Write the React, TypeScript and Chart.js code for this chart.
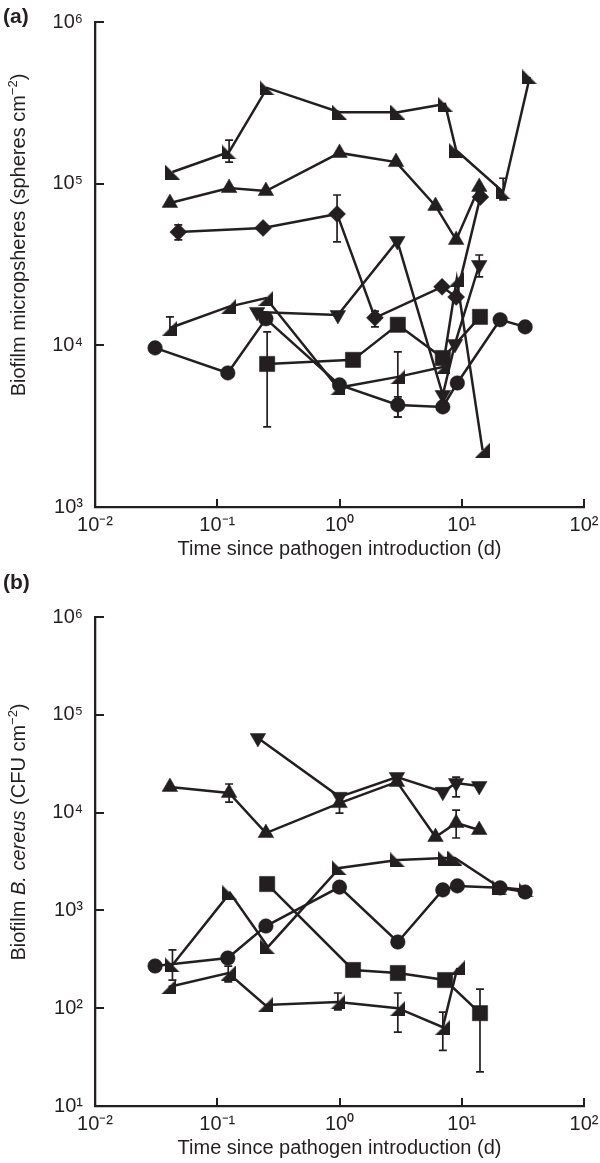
import React, { useEffect, useRef } from 'react';
import { Chart, registerables } from 'chart.js';

Chart.register(...registerables);

const INK = '#231f20';
const FONT = "'Liberation Sans', Arial, Helvetica, sans-serif";

// ---- tick values (decades) ----
const xTickValues = [1e-2, 1e-1, 1e0, 1e1, 1e2];
const yTickValuesA = [1e3, 1e4, 1e5, 1e6];
const yTickValuesB = [1e1, 1e2, 1e3, 1e4, 1e5, 1e6];

const xTitle = 'Time since pathogen introduction (d)';

// ---- Panel (a): biofilm microspheres (spheres cm-2) ----
const aLeftTriT = [0.043, 0.125, 0.256, 1.0, 3.0, 7.3, 9.0, 21.8, 36];
const aLeftTriV = [118000, 157000, 391000, 277000, 277000, 311000, 161000, 88900, 457000];
const aLeftTriErr = [null, [136000, 186000], null, null, null, null, null, [79300, 108000], null];

const aUpTriT = [0.041, 0.125, 0.25, 1.0, 2.9, 6.1, 9.0, 13.9];
const aUpTriV = [76000, 94000, 90000, 155000, 136000, 72800, 44900, 95500];
const aUpTriErr = [null, null, null, null, null, null, null, null];

const aDiamondT = [0.048, 0.237, 0.955, 1.95, 6.9, 9.0, 14.2];
const aDiamondV = [50200, 53200, 65000, 14800, 23000, 19900, 82800];
const aDiamondErr = [[44900, 55600], null, [43600, 85100], [13000, 16300], null, null, null];

const aDownTriT = [0.212, 0.97, 2.97, 7.0, 8.8, 13.9];
const aDownTriV = [16100, 15400, 44200, 4930, 10200, 31400];
const aDownTriErr = [null, null, null, null, null, [26500, 36200]];

const aRightTriT = [0.041, 0.123, 0.25, 0.97, 3.0, 7.0, 9.1, 14.8];
const aRightTriV = [12800, 17300, 19600, 5460, 6380, 7350, 25700, 2250];
const aRightTriErr = [[11600, 15000], null, null, null, [3600, 9100], null, null, null];

const aCircleT = [0.031, 0.122, 0.25, 1.0, 3.0, 7.0, 9.2, 20.6, 33];
const aCircleV = [9640, 6750, 14600, 5690, 4280, 4160, 5850, 14400, 13000];
const aCircleErr = [null, null, null, null, [3600, 4800], null, null, null, null];

const aSquareT = [0.256, 1.29, 3.0, 7.0, 14.1];
const aSquareV = [7670, 8130, 13400, 8350, 15000];
const aSquareErr = [[3130, 12100], null, null, null, null];

// ---- Panel (b): biofilm B. cereus (CFU cm-2) ----
const bDownTriT = [0.215, 1.0, 2.95, 7.0, 9.0, 13.9];
const bDownTriV = [57900, 14500, 23100, 16300, 20100, 18700];
const bDownTriErr = [null, null, null, null, [14500, 23100], null];

const bUpTriT = [0.041, 0.125, 0.25, 1.0, 2.95, 6.1, 9.0, 13.9];
const bUpTriV = [18300, 15900, 6180, 12500, 20600, 5630, 7830, 6640];
const bUpTriErr = [null, [12800, 19600], null, [9900, 14500], null, null, [5500, 10600], null];

const bCircleT = [0.031, 0.122, 0.25, 1.0, 3.0, 7.0, 9.2, 20.6, 33];
const bCircleV = [270, 326, 692, 1730, 475, 1620, 1780, 1700, 1540];
const bCircleErr = [null, null, null, null, null, null, null, null, null];

const bSquareT = [0.256, 1.29, 3.0, 7.3, 14.1];
const bSquareV = [1860, 246, 229, 194, 89];
const bSquareErr = [null, null, null, null, [22.3, 157]];

const bRightTriT = [0.04, 0.123, 0.246, 0.97, 3.0, 7.0, 9.2];
const bRightTriV = [165, 229, 108, 116, 100, 64, 258];
const bRightTriErr = [null, [186, 269], null, [96, 143], [57, 143], [37, 91], null];

const bLeftTriT = [0.043, 0.127, 0.26, 1.0, 3.0, 7.3, 8.8, 20.2, 33.6];
const bLeftTriV = [277, 1510, 423, 2720, 3280, 3430, 3430, 1730, 1620];
const bLeftTriErr = [[194, 394], null, null, null, null, null, null, null, null];

type Marker = 'circle' | 'square' | 'diamond' | 'up' | 'down' | 'leftTri' | 'rightTri';
type Series = { t: number[]; v: number[]; err: (number[] | null)[]; marker: Marker };

const panelASeries: Series[] = [
  { t: aLeftTriT, v: aLeftTriV, err: aLeftTriErr, marker: 'leftTri' },
  { t: aUpTriT, v: aUpTriV, err: aUpTriErr, marker: 'up' },
  { t: aDiamondT, v: aDiamondV, err: aDiamondErr, marker: 'diamond' },
  { t: aDownTriT, v: aDownTriV, err: aDownTriErr, marker: 'down' },
  { t: aRightTriT, v: aRightTriV, err: aRightTriErr, marker: 'rightTri' },
  { t: aCircleT, v: aCircleV, err: aCircleErr, marker: 'circle' },
  { t: aSquareT, v: aSquareV, err: aSquareErr, marker: 'square' },
];

const panelBSeries: Series[] = [
  { t: bDownTriT, v: bDownTriV, err: bDownTriErr, marker: 'down' },
  { t: bUpTriT, v: bUpTriV, err: bUpTriErr, marker: 'up' },
  { t: bCircleT, v: bCircleV, err: bCircleErr, marker: 'circle' },
  { t: bSquareT, v: bSquareV, err: bSquareErr, marker: 'square' },
  { t: bRightTriT, v: bRightTriV, err: bRightTriErr, marker: 'rightTri' },
  { t: bLeftTriT, v: bLeftTriV, err: bLeftTriErr, marker: 'leftTri' },
];

const SUP: Record<string, string> = {
  '-': '\u207B', '0': '\u2070', '1': '\u00B9', '2': '\u00B2', '3': '\u00B3',
  '4': '\u2074', '5': '\u2075', '6': '\u2076', '7': '\u2077', '8': '\u2078', '9': '\u2079',
};
function decadeLabel(v: number) {
  const e = String(Math.round(Math.log10(v)));
  return '10' + e.split('').map((c) => SUP[c] || c).join('');
}

function triImg(corner: 'bl' | 'br', size: number) {
  const c = document.createElement('canvas');
  c.width = size;
  c.height = size;
  const ctx = c.getContext('2d')!;
  ctx.fillStyle = INK;
  ctx.beginPath();
  if (corner === 'bl') {
    ctx.moveTo(0, 0);
    ctx.lineTo(0, size);
    ctx.lineTo(size, size);
  } else {
    ctx.moveTo(size, 0);
    ctx.lineTo(size, size);
    ctx.lineTo(0, size);
  }
  ctx.closePath();
  ctx.fill();
  return c;
}

function markerStyle(m: Marker, imgs: any) {
  switch (m) {
    case 'circle': return { pointStyle: 'circle', pointRadius: 7.3, pointRotation: 0 };
    case 'square': return { pointStyle: 'rect', pointRadius: 10.8, pointRotation: 0 };
    case 'diamond': return { pointStyle: 'rectRot', pointRadius: 8.5, pointRotation: 0 };
    case 'up': return { pointStyle: 'triangle', pointRadius: 9, pointRotation: 0 };
    case 'down': return { pointStyle: 'triangle', pointRadius: 9, pointRotation: 180 };
    case 'leftTri': return { pointStyle: imgs.leftTri, pointRadius: 8, pointRotation: 0 };
    case 'rightTri': return { pointStyle: imgs.rightTri, pointRadius: 8, pointRotation: 0 };
  }
}

function makeErrorPlugin(series: Series[]) {
  return {
    id: 'errorBars',
    beforeDatasetsDraw(chart: any) {
      const ctx = chart.ctx;
      const xs = chart.scales.x;
      const ys = chart.scales.y;
      ctx.save();
      ctx.strokeStyle = INK;
      ctx.lineWidth = 1.7;
      series.forEach((s) => {
        s.err.forEach((e, i) => {
          if (!e) return;
          const px = xs.getPixelForValue(s.t[i]);
          const y1 = ys.getPixelForValue(e[0]);
          const y2 = ys.getPixelForValue(e[1]);
          ctx.beginPath();
          ctx.moveTo(px, y1);
          ctx.lineTo(px, y2);
          ctx.moveTo(px - 4, y1);
          ctx.lineTo(px + 4, y1);
          ctx.moveTo(px - 4, y2);
          ctx.lineTo(px + 4, y2);
          ctx.stroke();
        });
      });
      ctx.restore();
    },
  };
}

function makeTickPlugin(yTicks: number[]) {
  return {
    id: 'inwardTicks',
    afterDraw(chart: any) {
      const ctx = chart.ctx;
      const xs = chart.scales.x;
      const ys = chart.scales.y;
      const { left, bottom } = chart.chartArea;
      ctx.save();
      ctx.strokeStyle = INK;
      ctx.lineWidth = 2;
      ctx.beginPath();
      xTickValues.forEach((v) => {
        const px = Math.round(xs.getPixelForValue(v));
        ctx.moveTo(px, bottom);
        ctx.lineTo(px, bottom - 8);
      });
      yTicks.forEach((v) => {
        const py = Math.round(ys.getPixelForValue(v));
        ctx.moveTo(left, py);
        ctx.lineTo(left + 9, py);
      });
      ctx.stroke();
      ctx.restore();
    },
  };
}

type Seg = { text: string; italic?: boolean; sup?: boolean };

function makeLabelPlugin(letter: string, letterY: number, segs: Seg[], cx: number, cy: number) {
  return {
    id: 'panelLabels',
    afterDraw(chart: any) {
      const ctx = chart.ctx;
      ctx.save();
      ctx.fillStyle = INK;
      ctx.font = `bold 21px ${FONT}`;
      ctx.textAlign = 'left';
      ctx.textBaseline = 'middle';
      ctx.fillText(letter, 3, letterY);
      const fontFor = (s: Seg) => `${s.italic ? 'italic ' : ''}${s.sup ? 13 : 20}px ${FONT}`;
      let total = 0;
      const widths = segs.map((s) => {
        ctx.font = fontFor(s);
        const w = ctx.measureText(s.text).width;
        total += w;
        return w;
      });
      ctx.translate(cx, cy);
      ctx.rotate(-Math.PI / 2);
      ctx.textBaseline = 'alphabetic';
      let x = -total / 2;
      segs.forEach((s, i) => {
        ctx.font = fontFor(s);
        ctx.fillText(s.text, x, s.sup ? -1 : 7);
        x += widths[i];
      });
      ctx.restore();
    },
  };
}

function buildConfig(p: {
  series: Series[];
  yMin: number;
  yMax: number;
  yTicks: number[];
  padTop: number;
  xHeight: number;
  titlePadBottom: number;
  letter: string;
  letterY: number;
  segs: Seg[];
  titleCY: number;
  imgs: any;
}): any {
  const datasets = p.series.map((s, i) => ({
    label: 'series ' + (i + 1),
    data: s.t.map((x, j) => ({ x, y: s.v[j] })),
    showLine: true,
    borderColor: INK,
    borderWidth: 2.5,
    backgroundColor: INK,
    pointBackgroundColor: INK,
    pointBorderColor: INK,
    pointBorderWidth: 0.5,
    ...markerStyle(s.marker, p.imgs),
  }));
  const tickFont = { family: FONT, size: 20 };
  return {
    type: 'scatter',
    data: { datasets },
    options: {
      responsive: false,
      animation: false,
      events: [],
      layout: { padding: { top: p.padTop, right: 16, bottom: 0, left: 0 } },
      plugins: { legend: { display: false }, tooltip: { enabled: false } },
      scales: {
        x: {
          type: 'logarithmic',
          min: 0.01,
          max: 100,
          grid: { display: false, drawTicks: false },
          border: { display: true, color: INK, width: 2.3 },
          ticks: {
            autoSkip: false,
            maxRotation: 0,
            padding: 6,
            color: INK,
            font: tickFont,
            callback: (v: number) => decadeLabel(v),
          },
          afterBuildTicks: (s: any) => {
            s.ticks = xTickValues.map((value) => ({ value }));
          },
          afterFit: (s: any) => {
            s.height = p.xHeight;
            s.paddingLeft = 0;
            s.paddingRight = 0;
          },
          title: {
            display: true,
            text: xTitle,
            color: INK,
            font: tickFont,
            padding: { top: 0, bottom: p.titlePadBottom },
          },
        },
        y: {
          type: 'logarithmic',
          min: p.yMin,
          max: p.yMax,
          grid: { display: false, drawTicks: false },
          border: { display: true, color: INK, width: 2.3 },
          ticks: {
            autoSkip: false,
            padding: 12,
            color: INK,
            font: tickFont,
            callback: (v: number) => decadeLabel(v),
          },
          afterBuildTicks: (s: any) => {
            s.ticks = p.yTicks.map((value) => ({ value }));
          },
          afterFit: (s: any) => {
            s.width = 95;
            s.paddingTop = 0;
            s.paddingBottom = 0;
          },
        },
      },
    },
    plugins: [
      makeErrorPlugin(p.series),
      makeTickPlugin(p.yTicks),
      makeLabelPlugin(p.letter, p.letterY, p.segs, 18, p.titleCY),
    ],
  };
}

export default function App() {
  const refA = useRef<HTMLCanvasElement>(null);
  const refB = useRef<HTMLCanvasElement>(null);

  useEffect(() => {
    const imgs = { leftTri: triImg('bl', 15), rightTri: triImg('br', 15) };
    const chartA = new Chart(
      refA.current!,
      buildConfig({
        series: panelASeries,
        yMin: 1e3,
        yMax: 1e6,
        yTicks: yTickValuesA,
        padTop: 22,
        xHeight: 63,
        titlePadBottom: 9,
        letter: '(a)',
        letterY: 17,
        segs: [
          { text: 'Biofilm micropsheres (spheres cm' },
          { text: '\u22122', sup: true },
          { text: ')' },
        ],
        titleCY: 235,
        imgs,
      })
    );
    const chartB = new Chart(
      refB.current!,
      buildConfig({
        series: panelBSeries,
        yMin: 1e1,
        yMax: 1e6,
        yTicks: yTickValuesB,
        padTop: 47,
        xHeight: 57,
        titlePadBottom: 3,
        letter: '(b)',
        letterY: 13,
        segs: [
          { text: 'Biofilm ' },
          { text: 'B. cereus', italic: true },
          { text: ' (CFU cm' },
          { text: '\u22122', sup: true },
          { text: ')' },
        ],
        titleCY: 262,
        imgs,
      })
    );
    return () => {
      chartA.destroy();
      chartB.destroy();
    };
  }, []);

  return (
    <div style={{ position: 'absolute', left: 0, top: 0, width: 600, height: 1163, background: '#ffffff' }}>
      <canvas ref={refA} width={600} height={570} style={{ position: 'absolute', left: 0, top: 0, display: 'block' }} />
      <canvas ref={refB} width={600} height={593} style={{ position: 'absolute', left: 0, top: 570, display: 'block' }} />
    </div>
  );
}
